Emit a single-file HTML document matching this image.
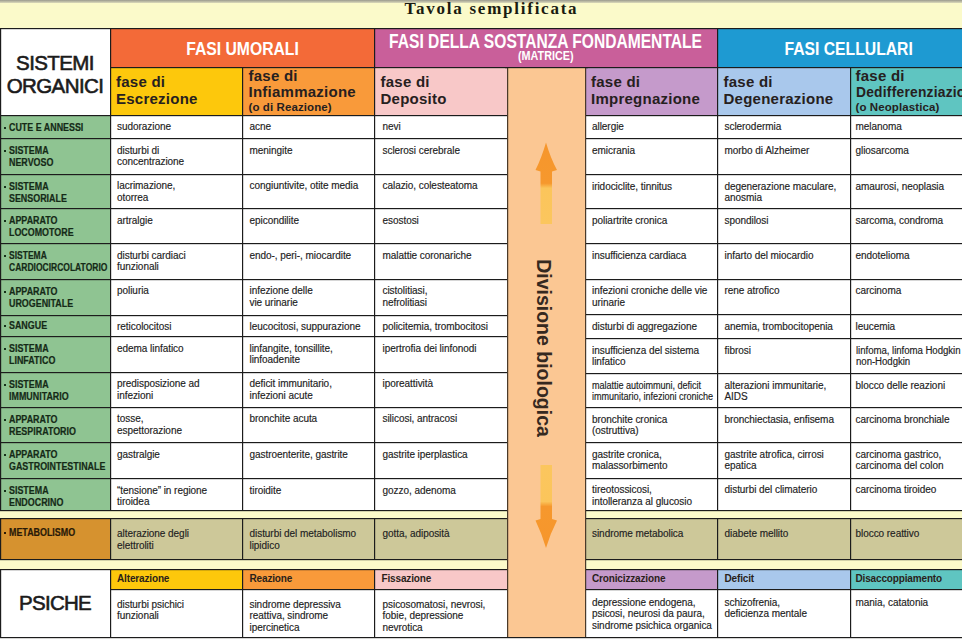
<!DOCTYPE html><html><head><meta charset="utf-8"><style>
*{margin:0;padding:0;box-sizing:border-box}
html,body{width:962px;height:639px;overflow:hidden;background:#FBFACA}
body{position:relative;font-family:"Liberation Sans",sans-serif}
.b{position:absolute}
.h{position:absolute;height:1px;box-shadow:0 1px 0 rgba(28,28,28,0.18)}
.v{position:absolute;width:1px;box-shadow:1px 0 0 rgba(28,28,28,0.18)}
.t{position:absolute;white-space:nowrap}
.cond{display:inline-block;transform-origin:50% 50%}
.title{font-family:"Liberation Serif",serif;font-weight:700;font-size:17px;letter-spacing:1.75px;color:#1a1a10;line-height:20px}
.sis{font-size:20.5px;line-height:23px;color:#1b1b1b;letter-spacing:-0.6px;-webkit-text-stroke:0.6px #1b1b1b}
.h1{font-size:18.3px;font-weight:700;color:#fff;line-height:20px}
.h1b{font-size:19.5px;font-weight:700;color:#fff;line-height:20px}
.h1c{font-size:13.5px;font-weight:700;color:#fff;line-height:14px}
.h2{font-size:15px;font-weight:700;color:#262020;line-height:16.5px;letter-spacing:0.25px}
.h2 .sm{font-size:11.5px;letter-spacing:0.1px;line-height:12px;display:inline-block;vertical-align:top}
.grn{font-size:10px;font-weight:700;color:#152a17;line-height:12px;padding-left:6px;-webkit-text-stroke:0.2px #152a17}
.gs{display:inline-block;transform-origin:0 0}
.grn .dot{position:absolute;left:1px;top:5px;width:2px;height:2px;background:#17301a}
.met{color:#2a1a08;-webkit-text-stroke:0.2px #2a1a08}
.met .dot{background:#2a1a08}
.bd{font-size:10px;color:#222;line-height:11.2px;letter-spacing:-0.05px;-webkit-text-stroke:0.15px #222}
.ph{font-size:10px;font-weight:700;color:#2a1f1a;line-height:12px;letter-spacing:-0.15px}
.psi{font-size:20.5px;line-height:22px;color:#1b1b1b;letter-spacing:-0.7px;-webkit-text-stroke:0.6px #1b1b1b}
.div{font-size:19.5px;font-weight:700;color:#35291f;line-height:20px;transform:translate(-50%,-50%) rotate(90deg);transform-origin:50% 50%}
</style></head><body><div class="b" style="left:0;top:0;width:962px;height:3px;background:linear-gradient(#9a9a8e,#dcdabb)"></div>
<div class="t title" style="left:404.5px;top:-1px;">Tavola semplificata</div>
<div class="b" style="left:0px;top:28px;width:110px;height:87px;background:#ffffff;"></div>
<div class="b" style="left:110px;top:28px;width:264.5px;height:39px;background:#F36A38;"></div>
<div class="b" style="left:374.5px;top:28px;width:343.0px;height:39px;background:#C95F9A;"></div>
<div class="b" style="left:717.5px;top:28px;width:244.5px;height:39px;background:#1E9AD2;"></div>
<div class="t sis" style="left:0px;top:51px;width:110px;text-align:center">SISTEMI<br>ORGANICI</div>
<div class="t h1" style="left:110px;top:38.5px;width:264.5px;text-align:center"><span class="cond" style="transform:scaleX(0.86)">FASI UMORALI</span></div>
<div class="t h1b" style="left:246px;top:31px;width:600px;text-align:center"><span class="cond" style="transform:scaleX(0.80)">FASI DELLA SOSTANZA FONDAMENTALE</span></div>
<div class="t h1c" style="left:374.5px;top:49px;width:343px;text-align:center"><span class="cond" style="transform:scaleX(0.8)">(MATRICE)</span></div>
<div class="t h1" style="left:649px;top:38.5px;width:400px;text-align:center"><span class="cond" style="transform:scaleX(0.86)">FASI CELLULARI</span></div>
<div class="b" style="left:110px;top:67px;width:132.5px;height:48px;background:#FDC80C;"></div>
<div class="b" style="left:242.5px;top:67px;width:132.0px;height:48px;background:#F99A3A;"></div>
<div class="b" style="left:374.5px;top:67px;width:133.0px;height:48px;background:#F8C8C8;"></div>
<div class="b" style="left:585px;top:67px;width:132.5px;height:48px;background:#C59ACB;"></div>
<div class="b" style="left:717.5px;top:67px;width:133.0px;height:48px;background:#A9C8EC;"></div>
<div class="b" style="left:850.5px;top:67px;width:111.5px;height:48px;background:#5FC5C1;"></div>
<div class="t h2" style="left:116px;top:74px;">fase di<br>Escrezione</div>
<div class="t h2" style="left:248.5px;top:67.5px;">fase di<br>Infiammazione<br><span class='sm'>(o di Reazione)</span></div>
<div class="t h2" style="left:380.5px;top:74px;">fase di<br>Deposito</div>
<div class="t h2" style="left:591px;top:74px;">fase di<br>Impregnazione</div>
<div class="t h2" style="left:723.5px;top:74px;">fase di<br>Degenerazione</div>
<div class="t h2" style="left:855.5px;top:67.5px;">fase di<br><span class='cond' style='transform:scaleX(0.92);transform-origin:0 50%'>Dedifferenziazione</span><br><span class='sm'>(o Neoplastica)</span></div>
<div class="b" style="left:0px;top:115px;width:110px;height:23.5px;background:#8FC492;"></div>
<div class="t grn" style="left:3px;top:121.5px;"><span class="dot"></span><span class="gs" style="transform:scaleX(0.89)">CUTE E ANNESSI</span></div>
<div class="b" style="left:110px;top:115px;width:132.5px;height:23.5px;background:#ffffff;"></div>
<div class="t bd" style="left:117px;top:121.3px;">sudorazione</div>
<div class="b" style="left:242.5px;top:115px;width:132.0px;height:23.5px;background:#ffffff;"></div>
<div class="t bd" style="left:249.5px;top:121.3px;">acne</div>
<div class="b" style="left:374.5px;top:115px;width:133.0px;height:23.5px;background:#ffffff;"></div>
<div class="t bd" style="left:382.5px;top:121.3px;">nevi</div>
<div class="b" style="left:585px;top:115px;width:132.5px;height:23.5px;background:#ffffff;"></div>
<div class="t bd" style="left:592px;top:121.3px;">allergie</div>
<div class="b" style="left:717.5px;top:115px;width:133.0px;height:23.5px;background:#ffffff;"></div>
<div class="t bd" style="left:724.5px;top:121.3px;">sclerodermia</div>
<div class="b" style="left:850.5px;top:115px;width:111.5px;height:23.5px;background:#ffffff;"></div>
<div class="t bd" style="left:855.5px;top:121.3px;">melanoma</div>
<div class="b" style="left:0px;top:138.5px;width:110px;height:35.5px;background:#8FC492;"></div>
<div class="t grn" style="left:3px;top:145.0px;"><span class="dot"></span><span class="gs" style="transform:scaleX(0.89)">SISTEMA<br>NERVOSO</span></div>
<div class="b" style="left:110px;top:138.5px;width:132.5px;height:35.5px;background:#ffffff;"></div>
<div class="t bd" style="left:117px;top:144.8px;">disturbi di<br>concentrazione</div>
<div class="b" style="left:242.5px;top:138.5px;width:132.0px;height:35.5px;background:#ffffff;"></div>
<div class="t bd" style="left:249.5px;top:144.8px;">meningite</div>
<div class="b" style="left:374.5px;top:138.5px;width:133.0px;height:35.5px;background:#ffffff;"></div>
<div class="t bd" style="left:382.5px;top:144.8px;">sclerosi cerebrale</div>
<div class="b" style="left:585px;top:138.5px;width:132.5px;height:35.69999999999999px;background:#ffffff;"></div>
<div class="t bd" style="left:592px;top:144.8px;">emicrania</div>
<div class="b" style="left:717.5px;top:138.5px;width:133.0px;height:35.69999999999999px;background:#ffffff;"></div>
<div class="t bd" style="left:724.5px;top:144.8px;">morbo di Alzheimer</div>
<div class="b" style="left:850.5px;top:138.5px;width:111.5px;height:35.69999999999999px;background:#ffffff;"></div>
<div class="t bd" style="left:855.5px;top:144.8px;">gliosarcoma</div>
<div class="b" style="left:0px;top:174px;width:110px;height:34.5px;background:#8FC492;"></div>
<div class="t grn" style="left:3px;top:180.5px;"><span class="dot"></span><span class="gs" style="transform:scaleX(0.89)">SISTEMA<br>SENSORIALE</span></div>
<div class="b" style="left:110px;top:174px;width:132.5px;height:34.5px;background:#ffffff;"></div>
<div class="t bd" style="left:117px;top:180.3px;">lacrimazione,<br>otorrea</div>
<div class="b" style="left:242.5px;top:174px;width:132.0px;height:34.5px;background:#ffffff;"></div>
<div class="t bd" style="left:249.5px;top:180.3px;">congiuntivite, otite media</div>
<div class="b" style="left:374.5px;top:174px;width:133.0px;height:34.5px;background:#ffffff;"></div>
<div class="t bd" style="left:382.5px;top:180.3px;">calazio, colesteatoma</div>
<div class="b" style="left:585px;top:174.2px;width:132.5px;height:34.5px;background:#ffffff;"></div>
<div class="t bd" style="left:592px;top:180.5px;">iridociclite, tinnitus</div>
<div class="b" style="left:717.5px;top:174.2px;width:133.0px;height:34.5px;background:#ffffff;"></div>
<div class="t bd" style="left:724.5px;top:180.5px;">degenerazione maculare,<br>anosmia</div>
<div class="b" style="left:850.5px;top:174.2px;width:111.5px;height:34.5px;background:#ffffff;"></div>
<div class="t bd" style="left:855.5px;top:180.5px;">amaurosi, neoplasia</div>
<div class="b" style="left:0px;top:208.5px;width:110px;height:35.0px;background:#8FC492;"></div>
<div class="t grn" style="left:3px;top:215.0px;"><span class="dot"></span><span class="gs" style="transform:scaleX(0.89)">APPARATO<br>LOCOMOTORE</span></div>
<div class="b" style="left:110px;top:208.5px;width:132.5px;height:35.0px;background:#ffffff;"></div>
<div class="t bd" style="left:117px;top:214.8px;">artralgie</div>
<div class="b" style="left:242.5px;top:208.5px;width:132.0px;height:35.0px;background:#ffffff;"></div>
<div class="t bd" style="left:249.5px;top:214.8px;">epicondilite</div>
<div class="b" style="left:374.5px;top:208.5px;width:133.0px;height:35.0px;background:#ffffff;"></div>
<div class="t bd" style="left:382.5px;top:214.8px;">esostosi</div>
<div class="b" style="left:585px;top:208.7px;width:132.5px;height:34.60000000000002px;background:#ffffff;"></div>
<div class="t bd" style="left:592px;top:215.0px;">poliartrite cronica</div>
<div class="b" style="left:717.5px;top:208.7px;width:133.0px;height:34.60000000000002px;background:#ffffff;"></div>
<div class="t bd" style="left:724.5px;top:215.0px;">spondilosi</div>
<div class="b" style="left:850.5px;top:208.7px;width:111.5px;height:34.60000000000002px;background:#ffffff;"></div>
<div class="t bd" style="left:855.5px;top:215.0px;">sarcoma, condroma</div>
<div class="b" style="left:0px;top:243.5px;width:110px;height:35.5px;background:#8FC492;"></div>
<div class="t grn" style="left:3px;top:250.0px;"><span class="dot"></span><span class="gs" style="transform:scaleX(0.85)">SISTEMA<br>CARDIOCIRCOLATORIO</span></div>
<div class="b" style="left:110px;top:243.5px;width:132.5px;height:35.5px;background:#ffffff;"></div>
<div class="t bd" style="left:117px;top:249.8px;">disturbi cardiaci<br>funzionali</div>
<div class="b" style="left:242.5px;top:243.5px;width:132.0px;height:35.5px;background:#ffffff;"></div>
<div class="t bd" style="left:249.5px;top:249.8px;">endo-, peri-, miocardite</div>
<div class="b" style="left:374.5px;top:243.5px;width:133.0px;height:35.5px;background:#ffffff;"></div>
<div class="t bd" style="left:382.5px;top:249.8px;">malattie coronariche</div>
<div class="b" style="left:585px;top:243.3px;width:132.5px;height:35.69999999999999px;background:#ffffff;"></div>
<div class="t bd" style="left:592px;top:249.60000000000002px;">insufficienza cardiaca</div>
<div class="b" style="left:717.5px;top:243.3px;width:133.0px;height:35.69999999999999px;background:#ffffff;"></div>
<div class="t bd" style="left:724.5px;top:249.60000000000002px;">infarto del miocardio</div>
<div class="b" style="left:850.5px;top:243.3px;width:111.5px;height:35.69999999999999px;background:#ffffff;"></div>
<div class="t bd" style="left:855.5px;top:249.60000000000002px;">endotelioma</div>
<div class="b" style="left:0px;top:279px;width:110px;height:36px;background:#8FC492;"></div>
<div class="t grn" style="left:3px;top:285.5px;"><span class="dot"></span><span class="gs" style="transform:scaleX(0.89)">APPARATO<br>UROGENITALE</span></div>
<div class="b" style="left:110px;top:279px;width:132.5px;height:36px;background:#ffffff;"></div>
<div class="t bd" style="left:117px;top:285.3px;">poliuria</div>
<div class="b" style="left:242.5px;top:279px;width:132.0px;height:36px;background:#ffffff;"></div>
<div class="t bd" style="left:249.5px;top:285.3px;">infezione delle<br>vie urinarie</div>
<div class="b" style="left:374.5px;top:279px;width:133.0px;height:36px;background:#ffffff;"></div>
<div class="t bd" style="left:382.5px;top:285.3px;">cistolitiasi,<br>nefrolitiasi</div>
<div class="b" style="left:585px;top:279px;width:132.5px;height:35.30000000000001px;background:#ffffff;"></div>
<div class="t bd" style="left:592px;top:285.3px;">infezioni croniche delle vie<br>urinarie</div>
<div class="b" style="left:717.5px;top:279px;width:133.0px;height:35.30000000000001px;background:#ffffff;"></div>
<div class="t bd" style="left:724.5px;top:285.3px;">rene atrofico</div>
<div class="b" style="left:850.5px;top:279px;width:111.5px;height:35.30000000000001px;background:#ffffff;"></div>
<div class="t bd" style="left:855.5px;top:285.3px;">carcinoma</div>
<div class="b" style="left:0px;top:315px;width:110px;height:21.30000000000001px;background:#8FC492;"></div>
<div class="t grn" style="left:3px;top:320px;"><span class="dot"></span><span class="gs" style="transform:scaleX(0.89)">SANGUE</span></div>
<div class="b" style="left:110px;top:315px;width:132.5px;height:21.30000000000001px;background:#ffffff;"></div>
<div class="t bd" style="left:117px;top:321.3px;">reticolocitosi</div>
<div class="b" style="left:242.5px;top:315px;width:132.0px;height:21.30000000000001px;background:#ffffff;"></div>
<div class="t bd" style="left:249.5px;top:321.3px;">leucocitosi, suppurazione</div>
<div class="b" style="left:374.5px;top:315px;width:133.0px;height:21.30000000000001px;background:#ffffff;"></div>
<div class="t bd" style="left:382.5px;top:321.3px;">policitemia, trombocitosi</div>
<div class="b" style="left:585px;top:314.3px;width:132.5px;height:24.19999999999999px;background:#ffffff;"></div>
<div class="t bd" style="left:592px;top:320.6px;">disturbi di aggregazione</div>
<div class="b" style="left:717.5px;top:314.3px;width:133.0px;height:24.19999999999999px;background:#ffffff;"></div>
<div class="t bd" style="left:724.5px;top:320.6px;">anemia, trombocitopenia</div>
<div class="b" style="left:850.5px;top:314.3px;width:111.5px;height:24.19999999999999px;background:#ffffff;"></div>
<div class="t bd" style="left:855.5px;top:320.6px;">leucemia</div>
<div class="b" style="left:0px;top:336.3px;width:110px;height:35.69999999999999px;background:#8FC492;"></div>
<div class="t grn" style="left:3px;top:342.8px;"><span class="dot"></span><span class="gs" style="transform:scaleX(0.89)">SISTEMA<br>LINFATICO</span></div>
<div class="b" style="left:110px;top:336.3px;width:132.5px;height:35.69999999999999px;background:#ffffff;"></div>
<div class="t bd" style="left:117px;top:342.6px;">edema linfatico</div>
<div class="b" style="left:242.5px;top:336.3px;width:132.0px;height:35.69999999999999px;background:#ffffff;"></div>
<div class="t bd" style="left:249.5px;top:342.6px;">linfangite, tonsillite,<br>linfoadenite</div>
<div class="b" style="left:374.5px;top:336.3px;width:133.0px;height:35.69999999999999px;background:#ffffff;"></div>
<div class="t bd" style="left:382.5px;top:342.6px;">ipertrofia dei linfonodi</div>
<div class="b" style="left:585px;top:338.5px;width:132.5px;height:34.69999999999999px;background:#ffffff;"></div>
<div class="t bd" style="left:592px;top:344.8px;">insufficienza del sistema<br>linfatico</div>
<div class="b" style="left:717.5px;top:338.5px;width:133.0px;height:34.69999999999999px;background:#ffffff;"></div>
<div class="t bd" style="left:724.5px;top:344.8px;">fibrosi</div>
<div class="b" style="left:850.5px;top:338.5px;width:111.5px;height:34.69999999999999px;background:#ffffff;"></div>
<div class="t bd" style="left:855.5px;top:344.8px;"><span class="gs" style="transform:scaleX(0.965)">linfoma, linfoma Hodgkin<br>non-Hodgkin</span></div>
<div class="b" style="left:0px;top:372px;width:110px;height:35px;background:#8FC492;"></div>
<div class="t grn" style="left:3px;top:378.5px;"><span class="dot"></span><span class="gs" style="transform:scaleX(0.89)">SISTEMA<br>IMMUNITARIO</span></div>
<div class="b" style="left:110px;top:372px;width:132.5px;height:35px;background:#ffffff;"></div>
<div class="t bd" style="left:117px;top:378.3px;">predisposizione ad<br>infezioni</div>
<div class="b" style="left:242.5px;top:372px;width:132.0px;height:35px;background:#ffffff;"></div>
<div class="t bd" style="left:249.5px;top:378.3px;">deficit immunitario,<br>infezioni acute</div>
<div class="b" style="left:374.5px;top:372px;width:133.0px;height:35px;background:#ffffff;"></div>
<div class="t bd" style="left:382.5px;top:378.3px;">iporeattività</div>
<div class="b" style="left:585px;top:373.2px;width:132.5px;height:34.5px;background:#ffffff;"></div>
<div class="t bd" style="left:592px;top:379.5px;"><span class="gs" style="transform:scaleX(0.91)">malattie autoimmuni, deficit<br>immunitario, infezioni croniche</span></div>
<div class="b" style="left:717.5px;top:373.2px;width:133.0px;height:34.5px;background:#ffffff;"></div>
<div class="t bd" style="left:724.5px;top:379.5px;">alterazioni immunitarie,<br>AIDS</div>
<div class="b" style="left:850.5px;top:373.2px;width:111.5px;height:34.5px;background:#ffffff;"></div>
<div class="t bd" style="left:855.5px;top:379.5px;">blocco delle reazioni</div>
<div class="b" style="left:0px;top:407px;width:110px;height:35.5px;background:#8FC492;"></div>
<div class="t grn" style="left:3px;top:413.5px;"><span class="dot"></span><span class="gs" style="transform:scaleX(0.89)">APPARATO<br>RESPIRATORIO</span></div>
<div class="b" style="left:110px;top:407px;width:132.5px;height:35.5px;background:#ffffff;"></div>
<div class="t bd" style="left:117px;top:413.3px;">tosse,<br>espettorazione</div>
<div class="b" style="left:242.5px;top:407px;width:132.0px;height:35.5px;background:#ffffff;"></div>
<div class="t bd" style="left:249.5px;top:413.3px;">bronchite acuta</div>
<div class="b" style="left:374.5px;top:407px;width:133.0px;height:35.5px;background:#ffffff;"></div>
<div class="t bd" style="left:382.5px;top:413.3px;">silicosi, antracosi</div>
<div class="b" style="left:585px;top:407.7px;width:132.5px;height:34.60000000000002px;background:#ffffff;"></div>
<div class="t bd" style="left:592px;top:414.0px;">bronchite cronica<br>(ostruttiva)</div>
<div class="b" style="left:717.5px;top:407.7px;width:133.0px;height:34.60000000000002px;background:#ffffff;"></div>
<div class="t bd" style="left:724.5px;top:414.0px;">bronchiectasia, enfisema</div>
<div class="b" style="left:850.5px;top:407.7px;width:111.5px;height:34.60000000000002px;background:#ffffff;"></div>
<div class="t bd" style="left:855.5px;top:414.0px;">carcinoma bronchiale</div>
<div class="b" style="left:0px;top:442.5px;width:110px;height:35.80000000000001px;background:#8FC492;"></div>
<div class="t grn" style="left:3px;top:449.0px;"><span class="dot"></span><span class="gs" style="transform:scaleX(0.89)">APPARATO<br>GASTROINTESTINALE</span></div>
<div class="b" style="left:110px;top:442.5px;width:132.5px;height:35.80000000000001px;background:#ffffff;"></div>
<div class="t bd" style="left:117px;top:448.8px;">gastralgie</div>
<div class="b" style="left:242.5px;top:442.5px;width:132.0px;height:35.80000000000001px;background:#ffffff;"></div>
<div class="t bd" style="left:249.5px;top:448.8px;">gastroenterite, gastrite</div>
<div class="b" style="left:374.5px;top:442.5px;width:133.0px;height:35.80000000000001px;background:#ffffff;"></div>
<div class="t bd" style="left:382.5px;top:448.8px;">gastrite iperplastica</div>
<div class="b" style="left:585px;top:442.3px;width:132.5px;height:35.69999999999999px;background:#ffffff;"></div>
<div class="t bd" style="left:592px;top:448.6px;">gastrite cronica,<br>malassorbimento</div>
<div class="b" style="left:717.5px;top:442.3px;width:133.0px;height:35.69999999999999px;background:#ffffff;"></div>
<div class="t bd" style="left:724.5px;top:448.6px;">gastrite atrofica, cirrosi<br>epatica</div>
<div class="b" style="left:850.5px;top:442.3px;width:111.5px;height:35.69999999999999px;background:#ffffff;"></div>
<div class="t bd" style="left:855.5px;top:448.6px;">carcinoma gastrico,<br>carcinoma del colon</div>
<div class="b" style="left:0px;top:478.3px;width:110px;height:32.0px;background:#8FC492;"></div>
<div class="t grn" style="left:3px;top:484.8px;"><span class="dot"></span><span class="gs" style="transform:scaleX(0.89)">SISTEMA<br>ENDOCRINO</span></div>
<div class="b" style="left:110px;top:478.3px;width:132.5px;height:32.0px;background:#ffffff;"></div>
<div class="t bd" style="left:117px;top:484.6px;">“tensione” in regione<br>tiroidea</div>
<div class="b" style="left:242.5px;top:478.3px;width:132.0px;height:32.0px;background:#ffffff;"></div>
<div class="t bd" style="left:249.5px;top:484.6px;">tiroidite</div>
<div class="b" style="left:374.5px;top:478.3px;width:133.0px;height:32.0px;background:#ffffff;"></div>
<div class="t bd" style="left:382.5px;top:484.6px;">gozzo, adenoma</div>
<div class="b" style="left:585px;top:478px;width:132.5px;height:32.10000000000002px;background:#ffffff;"></div>
<div class="t bd" style="left:592px;top:484.3px;">tireotossicosi,<br>intolleranza al glucosio</div>
<div class="b" style="left:717.5px;top:478px;width:133.0px;height:32.10000000000002px;background:#ffffff;"></div>
<div class="t bd" style="left:724.5px;top:484.3px;">disturbi del climaterio</div>
<div class="b" style="left:850.5px;top:478px;width:111.5px;height:32.10000000000002px;background:#ffffff;"></div>
<div class="t bd" style="left:855.5px;top:484.3px;">carcinoma tiroideo</div>
<div class="b" style="left:0px;top:518.6px;width:110px;height:40.799999999999955px;background:#D6922F;"></div>
<div class="b" style="left:110px;top:518.6px;width:132.5px;height:40.799999999999955px;background:#CDC899;"></div>
<div class="b" style="left:242.5px;top:518.6px;width:132.0px;height:40.799999999999955px;background:#CDC899;"></div>
<div class="b" style="left:374.5px;top:518.6px;width:133.0px;height:40.799999999999955px;background:#CDC899;"></div>
<div class="b" style="left:585px;top:518.6px;width:132.5px;height:40.799999999999955px;background:#CDC899;"></div>
<div class="b" style="left:717.5px;top:518.6px;width:133.0px;height:40.799999999999955px;background:#CDC899;"></div>
<div class="b" style="left:850.5px;top:518.6px;width:111.5px;height:40.799999999999955px;background:#CDC899;"></div>
<div class="t grn met" style="left:3px;top:527.1px;"><span class="dot"></span><span class="gs" style="transform:scaleX(0.89)">METABOLISMO</span></div>
<div class="t bd" style="left:117px;top:528.4px;">alterazione degli<br>elettroliti</div>
<div class="t bd" style="left:249.5px;top:528.4px;">disturbi del metabolismo<br>lipidico</div>
<div class="t bd" style="left:382.5px;top:528.4px;">gotta, adiposità</div>
<div class="t bd" style="left:592px;top:528.4px;">sindrome metabolica</div>
<div class="t bd" style="left:724.5px;top:528.4px;">diabete mellito</div>
<div class="t bd" style="left:855.5px;top:528.4px;">blocco reattivo</div>
<div class="b" style="left:0px;top:569.5px;width:110px;height:68.10000000000002px;background:#ffffff;"></div>
<div class="b" style="left:110px;top:569.5px;width:132.5px;height:19.799999999999955px;background:#FDC80C;"></div>
<div class="b" style="left:110px;top:589.3px;width:132.5px;height:48.30000000000007px;background:#ffffff;"></div>
<div class="t ph" style="left:117px;top:573.0px;">Alterazione</div>
<div class="t bd" style="left:117px;top:599.0999999999999px;">disturbi psichici<br>funzionali</div>
<div class="b" style="left:242.5px;top:569.5px;width:132.0px;height:19.799999999999955px;background:#F99A3A;"></div>
<div class="b" style="left:242.5px;top:589.3px;width:132.0px;height:48.30000000000007px;background:#ffffff;"></div>
<div class="t ph" style="left:249.5px;top:573.0px;">Reazione</div>
<div class="t bd" style="left:249.5px;top:599.0999999999999px;">sindrome depressiva<br>reattiva, sindrome<br>ipercinetica</div>
<div class="b" style="left:374.5px;top:569.5px;width:133.0px;height:19.799999999999955px;background:#F8C8C8;"></div>
<div class="b" style="left:374.5px;top:589.3px;width:133.0px;height:48.30000000000007px;background:#ffffff;"></div>
<div class="t ph" style="left:381.5px;top:573.0px;">Fissazione</div>
<div class="t bd" style="left:382.5px;top:599.0999999999999px;">psicosomatosi, nevrosi,<br>fobie, depressione<br>nevrotica</div>
<div class="b" style="left:585px;top:569.5px;width:132.5px;height:19.799999999999955px;background:#C59ACB;"></div>
<div class="b" style="left:585px;top:589.3px;width:132.5px;height:48.30000000000007px;background:#ffffff;"></div>
<div class="t ph" style="left:592px;top:573.0px;">Cronicizzazione</div>
<div class="t bd" style="left:592px;top:597.0999999999999px;">depressione endogena,<br>psicosi, neurosi da paura,<br>sindrome psichica organica</div>
<div class="b" style="left:717.5px;top:569.5px;width:133.0px;height:19.799999999999955px;background:#A9C8EC;"></div>
<div class="b" style="left:717.5px;top:589.3px;width:133.0px;height:48.30000000000007px;background:#ffffff;"></div>
<div class="t ph" style="left:724.5px;top:573.0px;">Deficit</div>
<div class="t bd" style="left:724.5px;top:597.0999999999999px;">schizofrenia,<br>deficienza mentale</div>
<div class="b" style="left:850.5px;top:569.5px;width:111.5px;height:19.799999999999955px;background:#5FC5C1;"></div>
<div class="b" style="left:850.5px;top:589.3px;width:111.5px;height:48.30000000000007px;background:#ffffff;"></div>
<div class="t ph" style="left:855.5px;top:573.0px;">Disaccoppiamento</div>
<div class="t bd" style="left:855.5px;top:597.0999999999999px;">mania, catatonia</div>
<div class="t psi" style="left:0px;top:591.5px;width:110px;text-align:center">PSICHE</div>
<div class="h" style="left:0px;top:28px;width:962px;background:#1c1c1c"></div>
<div class="h" style="left:110px;top:67px;width:852px;background:#1c1c1c"></div>
<div class="h" style="left:0px;top:115px;width:962px;background:#1c1c1c"></div>
<div class="h" style="left:0px;top:138px;width:507.5px;background:#1c1c1c"></div>
<div class="h" style="left:0px;top:174px;width:507.5px;background:#1c1c1c"></div>
<div class="h" style="left:0px;top:208px;width:507.5px;background:#1c1c1c"></div>
<div class="h" style="left:0px;top:243px;width:507.5px;background:#1c1c1c"></div>
<div class="h" style="left:0px;top:279px;width:507.5px;background:#1c1c1c"></div>
<div class="h" style="left:0px;top:315px;width:507.5px;background:#1c1c1c"></div>
<div class="h" style="left:0px;top:336px;width:507.5px;background:#1c1c1c"></div>
<div class="h" style="left:0px;top:372px;width:507.5px;background:#1c1c1c"></div>
<div class="h" style="left:0px;top:407px;width:507.5px;background:#1c1c1c"></div>
<div class="h" style="left:0px;top:442px;width:507.5px;background:#1c1c1c"></div>
<div class="h" style="left:0px;top:478px;width:507.5px;background:#1c1c1c"></div>
<div class="h" style="left:585px;top:138px;width:377px;background:#1c1c1c"></div>
<div class="h" style="left:585px;top:174px;width:377px;background:#1c1c1c"></div>
<div class="h" style="left:585px;top:208px;width:377px;background:#1c1c1c"></div>
<div class="h" style="left:585px;top:243px;width:377px;background:#1c1c1c"></div>
<div class="h" style="left:585px;top:279px;width:377px;background:#1c1c1c"></div>
<div class="h" style="left:585px;top:314px;width:377px;background:#1c1c1c"></div>
<div class="h" style="left:585px;top:338px;width:377px;background:#1c1c1c"></div>
<div class="h" style="left:585px;top:373px;width:377px;background:#1c1c1c"></div>
<div class="h" style="left:585px;top:407px;width:377px;background:#1c1c1c"></div>
<div class="h" style="left:585px;top:442px;width:377px;background:#1c1c1c"></div>
<div class="h" style="left:585px;top:478px;width:377px;background:#1c1c1c"></div>
<div class="h" style="left:0px;top:510px;width:962px;background:#1c1c1c"></div>
<div class="h" style="left:0px;top:518px;width:962px;background:#1c1c1c"></div>
<div class="h" style="left:0px;top:559px;width:962px;background:#1c1c1c"></div>
<div class="h" style="left:0px;top:569px;width:962px;background:#1c1c1c"></div>
<div class="h" style="left:110px;top:589px;width:852px;background:#1c1c1c"></div>
<div class="h" style="left:0px;top:637px;width:962px;background:#1c1c1c"></div>
<div class="v" style="left:0px;top:28px;height:482.3px;background:#1c1c1c"></div>
<div class="v" style="left:110px;top:28px;height:482.3px;background:#1c1c1c"></div>
<div class="v" style="left:0px;top:518.6px;height:40.799999999999955px;background:#1c1c1c"></div>
<div class="v" style="left:110px;top:518.6px;height:40.799999999999955px;background:#1c1c1c"></div>
<div class="v" style="left:0px;top:569.5px;height:68.10000000000002px;background:#1c1c1c"></div>
<div class="v" style="left:110px;top:569.5px;height:68.10000000000002px;background:#1c1c1c"></div>
<div class="v" style="left:242px;top:67px;height:443.3px;background:#1c1c1c"></div>
<div class="v" style="left:242px;top:518.6px;height:40.799999999999955px;background:#1c1c1c"></div>
<div class="v" style="left:242px;top:569.5px;height:68.10000000000002px;background:#1c1c1c"></div>
<div class="v" style="left:374px;top:28px;height:482.3px;background:#1c1c1c"></div>
<div class="v" style="left:374px;top:518.6px;height:40.799999999999955px;background:#1c1c1c"></div>
<div class="v" style="left:374px;top:569.5px;height:68.10000000000002px;background:#1c1c1c"></div>
<div class="v" style="left:717px;top:28px;height:482.3px;background:#1c1c1c"></div>
<div class="v" style="left:717px;top:518.6px;height:40.799999999999955px;background:#1c1c1c"></div>
<div class="v" style="left:717px;top:569.5px;height:68.10000000000002px;background:#1c1c1c"></div>
<div class="v" style="left:850px;top:67px;height:443.3px;background:#1c1c1c"></div>
<div class="v" style="left:850px;top:518.6px;height:40.799999999999955px;background:#1c1c1c"></div>
<div class="v" style="left:850px;top:569.5px;height:68.10000000000002px;background:#1c1c1c"></div>
<div class="b" style="left:507.5px;top:67px;width:77.5px;height:572px;background:#FBC793;"></div>
<div class="v" style="left:507px;top:67px;height:572px;background:#4a3a2a"></div>
<div class="v" style="left:585px;top:67px;height:572px;background:#4a3a2a"></div>
<div class="h" style="left:505px;top:67px;width:83px;background:#1c1c1c"></div>
<svg class="b" style="left:507.5px;top:67px" width="78" height="572" viewBox="507.5 67 78 572">
<defs><linearGradient id="gu" x1="0" y1="0" x2="0" y2="1"><stop offset="0" stop-color="#F6962C"/><stop offset="0.5" stop-color="#F6982D"/><stop offset="0.56" stop-color="#FBC55B"/><stop offset="1" stop-color="#FBC65E"/></linearGradient>
<linearGradient id="gd" x1="0" y1="0" x2="0" y2="1"><stop offset="0" stop-color="#FBC65E"/><stop offset="0.44" stop-color="#FBC55B"/><stop offset="0.5" stop-color="#F6982D"/><stop offset="1" stop-color="#F6962C"/></linearGradient></defs>
<path d="M545.5 142.5 Q550 158 556.5 170 L551.5 171.5 L551.5 224 L540 224 L540 171.5 L535 170 Q541 158 545.5 142.5 Z" fill="url(#gu)"/>
<path d="M540 465 L551.5 465 L551.5 519 L556.5 520.5 Q550 533 545.5 548 Q541 533 535 520.5 L540 519 Z" fill="url(#gd)"/>
</svg>
<div class="t div" style="left:544px;top:347.5px;">Divisione biologica</div>
<div class="b" style="left:0px;top:638.0px;width:962px;height:1.0px;background:#fdfdfb;"></div>
<div class="h" style="left:0px;top:637px;width:962px;background:#1c1c1c"></div></body></html>
